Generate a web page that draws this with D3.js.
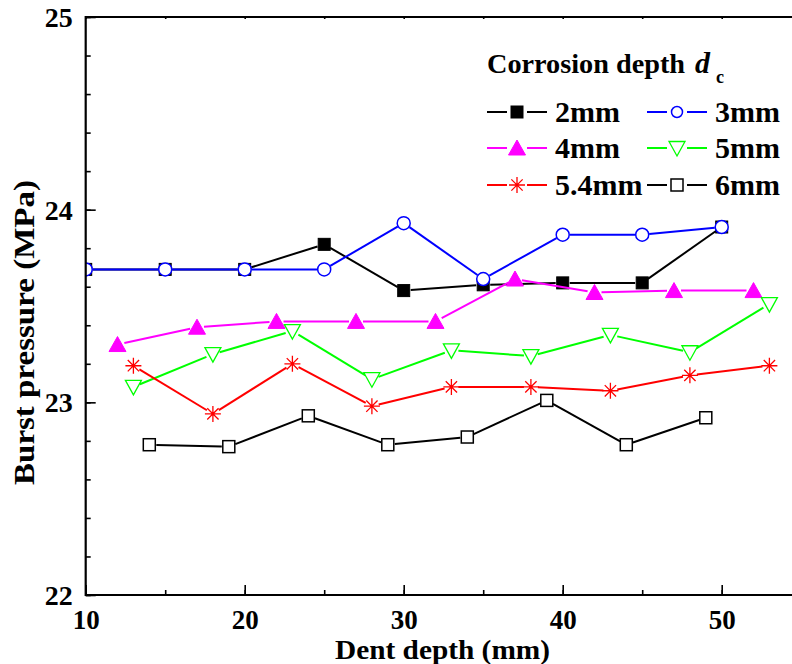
<!DOCTYPE html>
<html><head><meta charset="utf-8">
<script src="https://cdn.jsdelivr.net/npm/d3@7"></script>
<style>
html,body{margin:0;padding:0;background:#fff;overflow:hidden}
svg{display:block}
text{font-family:"Liberation Serif","Times New Roman",serif;font-weight:bold;fill:#000}
</style></head>
<body>
<svg id="chart" width="792" height="664"></svg>
<script>
// ---- data ----
const dent2_3 = [10,15,20,25,30,35,40,45,50];
const p2mm   = [23.69,23.69,23.69,23.82,23.58,23.61,23.62,23.62,23.91];
const p3mm   = [23.69,23.69,23.69,23.69,23.93,23.64,23.87,23.87,23.91];
const dent4  = [12,17,22,27,32,37,42,47,52];
const p4mm   = [23.30,23.39,23.42,23.42,23.42,23.64,23.57,23.58,23.58];
const dent5  = [13,18,23,28,33,38,43,48,53];
const p5mm   = [23.08,23.25,23.37,23.12,23.27,23.24,23.35,23.26,23.51];
const dent54 = [13,18,23,28,33,38,43,48,53];
const p54mm  = [23.19,22.94,23.20,22.98,23.08,23.08,23.06,23.14,23.19];
const dent6  = [14,19,24,29,34,39,44,49];
const p6mm   = [22.78,22.77,22.93,22.78,22.82,23.01,22.78,22.92];
const xTicks = [10,20,30,40,50];
const yTicks = [22,23,24,25];
const seriesNames = ["2mm","3mm","4mm","5mm","5.4mm","6mm"];

const series = [
  {name:seriesNames[0], x:dent2_3, y:p2mm,  color:"#000000", sym:"sqFill"},
  {name:seriesNames[1], x:dent2_3, y:p3mm,  color:"#0000ff", sym:"circle"},
  {name:seriesNames[2], x:dent4,   y:p4mm,  color:"#ff00ff", sym:"triFill"},
  {name:seriesNames[3], x:dent5,   y:p5mm,  color:"#00ff00", sym:"triDown"},
  {name:seriesNames[4], x:dent54,  y:p54mm, color:"#ff0000", sym:"star"},
  {name:seriesNames[5], x:dent6,   y:p6mm,  color:"#000000", sym:"sqOpen"}
];

const svg = d3.select("#chart");
const L = 85.7, R = 801.2, T = 17, B = 595;
const x = d3.scaleLinear().domain([10,55]).range([L,R]);
const y = d3.scaleLinear().domain([22,25]).range([B,T]);
const FONT = "'Liberation Serif','Times New Roman',serif";

svg.append("defs").append("clipPath").attr("id","clip")
  .append("rect").attr("x",L).attr("y",T).attr("width",R-L).attr("height",B-T);

function drawMarker(g, sym, color, legend){
  if(sym==="sqFill"){
    g.append("rect").attr("x",-6).attr("y",-6).attr("width",12).attr("height",12)
      .attr("fill",color).attr("stroke",color).attr("stroke-width",1);
  } else if(sym==="sqOpen"){
    g.append("rect").attr("x",-6).attr("y",-6).attr("width",12).attr("height",12)
      .attr("fill","#fff").attr("stroke",color).attr("stroke-width",1.5);
  } else if(sym==="circle"){
    g.append("circle").attr("r",legend?5.5:6.5).attr("fill","#fff")
      .attr("stroke",color).attr("stroke-width",1.5);
  } else if(sym==="triFill"){
    g.append("path").attr("d","M0,-8L8.5,7L-8.5,7Z").attr("fill",color)
      .attr("stroke",color).attr("stroke-width",1);
  } else if(sym==="triDown"){
    g.append("path").attr("d","M0,8L8,-6.5L-8,-6.5Z").attr("fill","#fff")
      .attr("stroke",color).attr("stroke-width",1.3);
  } else if(sym==="star"){
    const r=8, d=r*Math.SQRT1_2;
    g.append("path").attr("d",`M${-r},0L${r},0M0,${-r}L0,${r}M${-d},${-d}L${d},${d}M${-d},${d}L${d},${-d}`)
      .attr("fill","none").attr("stroke",color).attr("stroke-width",1.3);
  }
}

// ---- plot ----
const plot = svg.append("g").attr("clip-path","url(#clip)");
const gap = 7;
series.forEach(s=>{
  const pts = s.x.map((d,i)=>[x(d), y(s.y[i])]);
  const g = plot.append("g");
  for(let i=0;i<pts.length-1;i++){
    const [x1,y1]=pts[i],[x2,y2]=pts[i+1];
    const len=Math.hypot(x2-x1,y2-y1), ux=(x2-x1)/len, uy=(y2-y1)/len;
    g.append("line")
      .attr("x1",x1+ux*gap).attr("y1",y1+uy*gap)
      .attr("x2",x2-ux*gap).attr("y2",y2-uy*gap)
      .attr("stroke",s.color).attr("stroke-width",2);
  }
  pts.forEach(p=>{
    drawMarker(g.append("g").attr("transform",`translate(${p[0]},${p[1]})`), s.sym, s.color, false);
  });
});

// ---- axes ----
const axisG = svg.append("g");
const xMinor = d3.range(10,56,5);
const yMinor = d3.range(22,25.001,0.2);
function styleTickText(g){
  g.selectAll("text").style("font-family",FONT).style("font-weight","bold").style("font-size","28px").attr("fill","#000");
}
// bottom
axisG.append("g").attr("transform",`translate(0,${B})`)
  .call(d3.axisBottom(x).tickValues(xMinor).tickSize(-5).tickFormat(""))
  .call(g=>g.select(".domain").remove());
axisG.append("g").attr("transform",`translate(0,${B})`)
  .call(d3.axisBottom(x).tickValues(xTicks).tickSize(-10).tickFormat(d3.format("d")))
  .call(g=>g.select(".domain").remove())
  .call(styleTickText)
  .call(g=>g.selectAll("text").style("font-size","27px").attr("dy",0).attr("y",34));
// top
axisG.append("g").attr("transform",`translate(0,${T})`)
  .call(d3.axisTop(x).tickValues(xMinor).tickSize(-2).tickFormat(""))
  .call(g=>g.select(".domain").remove());
// left
axisG.append("g").attr("transform",`translate(${L},0)`)
  .call(d3.axisLeft(y).tickValues(yMinor).tickSize(-5).tickFormat(""))
  .call(g=>g.select(".domain").remove());
axisG.append("g").attr("transform",`translate(${L},0)`)
  .call(d3.axisLeft(y).tickValues(yTicks).tickSize(-10).tickFormat(d3.format("d")))
  .call(g=>g.select(".domain").remove())
  .call(styleTickText)
  .call(g=>g.selectAll("text").attr("x",-13).attr("dy","0.34em"));
axisG.selectAll(".tick line").attr("stroke","#000").attr("stroke-width",1.6);
// frame lines
axisG.append("line").attr("x1",L).attr("x2",792).attr("y1",B).attr("y2",B).attr("stroke","#000").attr("stroke-width",2.2);
axisG.append("line").attr("x1",L).attr("x2",792).attr("y1",T).attr("y2",T).attr("stroke","#000").attr("stroke-width",2.2);
axisG.append("line").attr("x1",L).attr("x2",L).attr("y1",T-1).attr("y2",B+1).attr("stroke","#000").attr("stroke-width",2.2);

// axis titles
svg.append("text").attr("x",335).attr("y",659).attr("font-size",27)
  .attr("textLength",215).attr("lengthAdjust","spacingAndGlyphs").text("Dent depth (mm)");
svg.append("text").attr("transform",`translate(34,485) rotate(-90)`)
  .attr("font-size",29).attr("textLength",305).attr("lengthAdjust","spacingAndGlyphs")
  .text("Burst pressure (MPa)");

// ---- legend ----
const leg = svg.append("g");
const lt = leg.append("text").attr("x",487).attr("y",73).attr("font-size",28);
lt.append("tspan").attr("textLength",198).attr("lengthAdjust","spacingAndGlyphs").text("Corrosion depth");
lt.append("tspan").attr("x",695).attr("font-size",30).attr("font-style","italic").text("d");
lt.append("tspan").attr("x",716).attr("font-size",18).attr("dy",10).text("c");

const legRows = [112,148,185];
const legCols = [487,647];
series.forEach((s,i)=>{
  const cx = legCols[i%2], cy = legRows[Math.floor(i/2)];
  const g = leg.append("g");
  g.append("line").attr("x1",cx).attr("x2",cx+20).attr("y1",cy).attr("y2",cy).attr("stroke",s.color).attr("stroke-width",2);
  g.append("line").attr("x1",cx+40).attr("x2",cx+60).attr("y1",cy).attr("y2",cy).attr("stroke",s.color).attr("stroke-width",2);
  drawMarker(g.append("g").attr("transform",`translate(${cx+30},${cy})`), s.sym, s.color, true);
  g.append("text").attr("x",cx+68).attr("y",cy+10).attr("font-size",30).text(s.name);
});
</script>
</body></html>
